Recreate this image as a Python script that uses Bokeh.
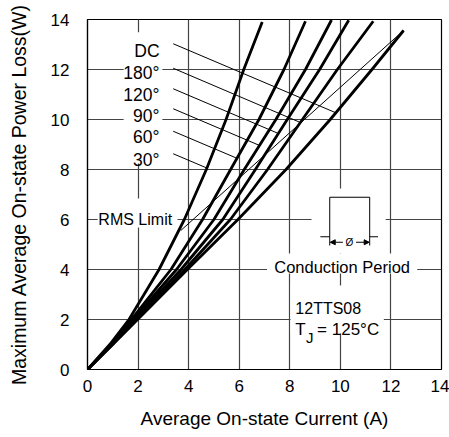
from bokeh.plotting import figure
from bokeh.models import Label, Arrow, NormalHead, FixedTicker, Range1d
from bokeh.embed import file_html
from bokeh.resources import INLINE

FONT = "Liberation Sans"

# ---- data -------------------------------------------------------------
curve_names = ["30°", "60°", "90°", "120°", "180°", "DC"]
power_levels = [0, 1, 2, 4, 6, 8, 10, 12]
cur_30 = [0, 0.88, 1.64, 2.83, 3.83, 4.70, 5.48, 6.18, 6.91]
cur_60 = [0, 0.93, 1.74, 3.30, 4.55, 5.66, 6.78, 7.77, 8.62]
cur_90 = [0, 0.95, 1.80, 3.52, 5.00, 6.20, 7.45, 8.62, 9.65]
cur_120 = [0, 0.97, 1.86, 3.70, 5.35, 6.64, 7.90, 9.18, 10.33]
cur_180 = [0, 0.98, 1.90, 3.85, 5.65, 7.12, 8.50, 9.88, 11.30]
cur_dc = [0, 1.00, 1.98, 3.95, 5.95, 7.85, 9.60, 11.25, 12.50]
top_power = [13.90, 13.93, 13.98, 13.97, 13.93, 13.56]

rms_current = [3.69, 12.50]
rms_power = [5.56, 13.56]

x_ticks = [0, 2, 4, 6, 8, 10, 12, 14]
y_ticks = [0, 2, 4, 6, 8, 10, 12, 14]

# leader lines from labels to curves
leader_x0 = [3.39] * 6
leader_y0 = [8.63, 9.53, 10.43, 11.23, 12.05, 13.03]
leader_x1 = [4.72, 5.91, 6.81, 7.55, 8.42, 9.82]
leader_y1 = [8.06, 8.45, 8.96, 9.44, 9.88, 10.27]
label_y = [8.39, 9.29, 10.16, 10.99, 11.87, 12.76]

p = figure(width=449, height=437, x_range=Range1d(0, 14), y_range=Range1d(0, 14),
           output_backend="svg", toolbar_location=None,
           min_border_left=87, min_border_right=8, min_border_top=19, min_border_bottom=68)
p.background_fill_color = "white"
p.border_fill_color = "white"
p.outline_line_color = "black"
p.outline_line_width = 1.2

p.xaxis.ticker = FixedTicker(ticks=x_ticks)
p.yaxis.ticker = FixedTicker(ticks=y_ticks)
for ax in (p.xaxis[0], p.yaxis[0]):
    ax.major_tick_out = 0
    ax.major_tick_in = 0
    ax.minor_tick_out = 0
    ax.minor_tick_in = 0
    ax.axis_line_color = "black"
    ax.axis_line_width = 1.2
    ax.major_label_text_font = FONT
    ax.major_label_text_font_size = "17px"
    ax.major_label_text_color = "black"
    ax.axis_label_text_font = FONT
    ax.axis_label_text_font_style = "normal"
    ax.axis_label_text_color = "black"
p.xaxis.axis_label = "Average On-state Current (A)"
p.yaxis.axis_label = "Maximum Average On-state Power Loss(W)"
p.xaxis.axis_label_text_font_size = "19px"
p.yaxis.axis_label_text_font_size = "19.5px"
p.xaxis.major_label_standoff = 10
p.xaxis.axis_label_standoff = 13
p.yaxis.major_label_standoff = 18
p.yaxis.axis_label_standoff = 18

p.grid.grid_line_color = "#444444"
p.grid.grid_line_width = 1.2

# white boxes behind texts (hide grid)
p.quad(left=[1.43, 0.40, 8.86, 7.10, 8.03], right=[2.96, 3.56, 11.79, 13.04, 11.72],
       bottom=[8.24, 5.68, 4.64, 3.84, 1.44], top=[13.49, 6.84, 7.24, 4.64, 3.36],
       fill_color="white", line_color=None)

# curves
all_curves = [cur_30, cur_60, cur_90, cur_120, cur_180, cur_dc]
for xs, top in zip(all_curves, top_power):
    p.line(xs, power_levels + [top], line_color="black", line_width=2.8, line_join="round")

# RMS limit line
p.line(rms_current, rms_power, line_color="black", line_width=1)

# leaders
p.segment(leader_x0, leader_y0, leader_x1, leader_y1, line_color="black", line_width=1)

for name, ly in zip(curve_names, label_y):
    p.add_layout(Label(x=2.85, y=ly, text=name, text_align="right", text_baseline="alphabetic",
                       text_font=FONT, text_font_size="17.5px", text_color="black"))

p.add_layout(Label(x=0.43, y=5.99, text="RMS Limit", text_align="left", text_baseline="alphabetic",
                   text_font=FONT, text_font_size="16px", text_color="black"))

# conduction period diagram
p.multi_line(xs=[[9.21, 9.58], [11.16, 11.49], [9.58, 9.58, 11.16, 11.16]],
             ys=[[5.31, 5.31], [5.31, 5.31], [4.96, 6.89, 6.89, 4.96]],
             line_color="black", line_width=1)
head = dict(size=5, fill_color="black", line_color="black")
p.add_layout(Arrow(end=NormalHead(**head), x_start=10.1, y_start=5.09, x_end=9.6, y_end=5.09,
                   line_width=1, line_color="black"))
p.add_layout(Arrow(end=NormalHead(**head), x_start=10.62, y_start=5.09, x_end=11.14, y_end=5.09,
                   line_width=1, line_color="black"))
p.add_layout(Label(x=10.36, y=5.09, text="Ø", text_align="center", text_baseline="middle",
                   text_font=FONT, text_font_size="10px", text_color="black"))
p.add_layout(Label(x=10.07, y=4.09, text="Conduction Period", text_align="center",
                   text_baseline="alphabetic", text_font=FONT, text_font_size="16.5px",
                   text_color="black"))

p.add_layout(Label(x=8.22, y=2.43, text="12TTS08", text_align="left", text_baseline="alphabetic",
                   text_font=FONT, text_font_size="16px", text_color="black"))
p.add_layout(Label(x=8.22, y=1.59, text="T", text_align="left", text_baseline="alphabetic",
                   text_font=FONT, text_font_size="17px", text_color="black"))
p.add_layout(Label(x=8.64, y=1.30, text="J", text_align="left", text_baseline="alphabetic",
                   text_font=FONT, text_font_size="15px", text_color="black"))
p.add_layout(Label(x=9.08, y=1.59, text="= 125°C", text_align="left", text_baseline="alphabetic",
                   text_font=FONT, text_font_size="17px", text_color="black"))

open("out.html", "w").write(file_html(p, INLINE))
